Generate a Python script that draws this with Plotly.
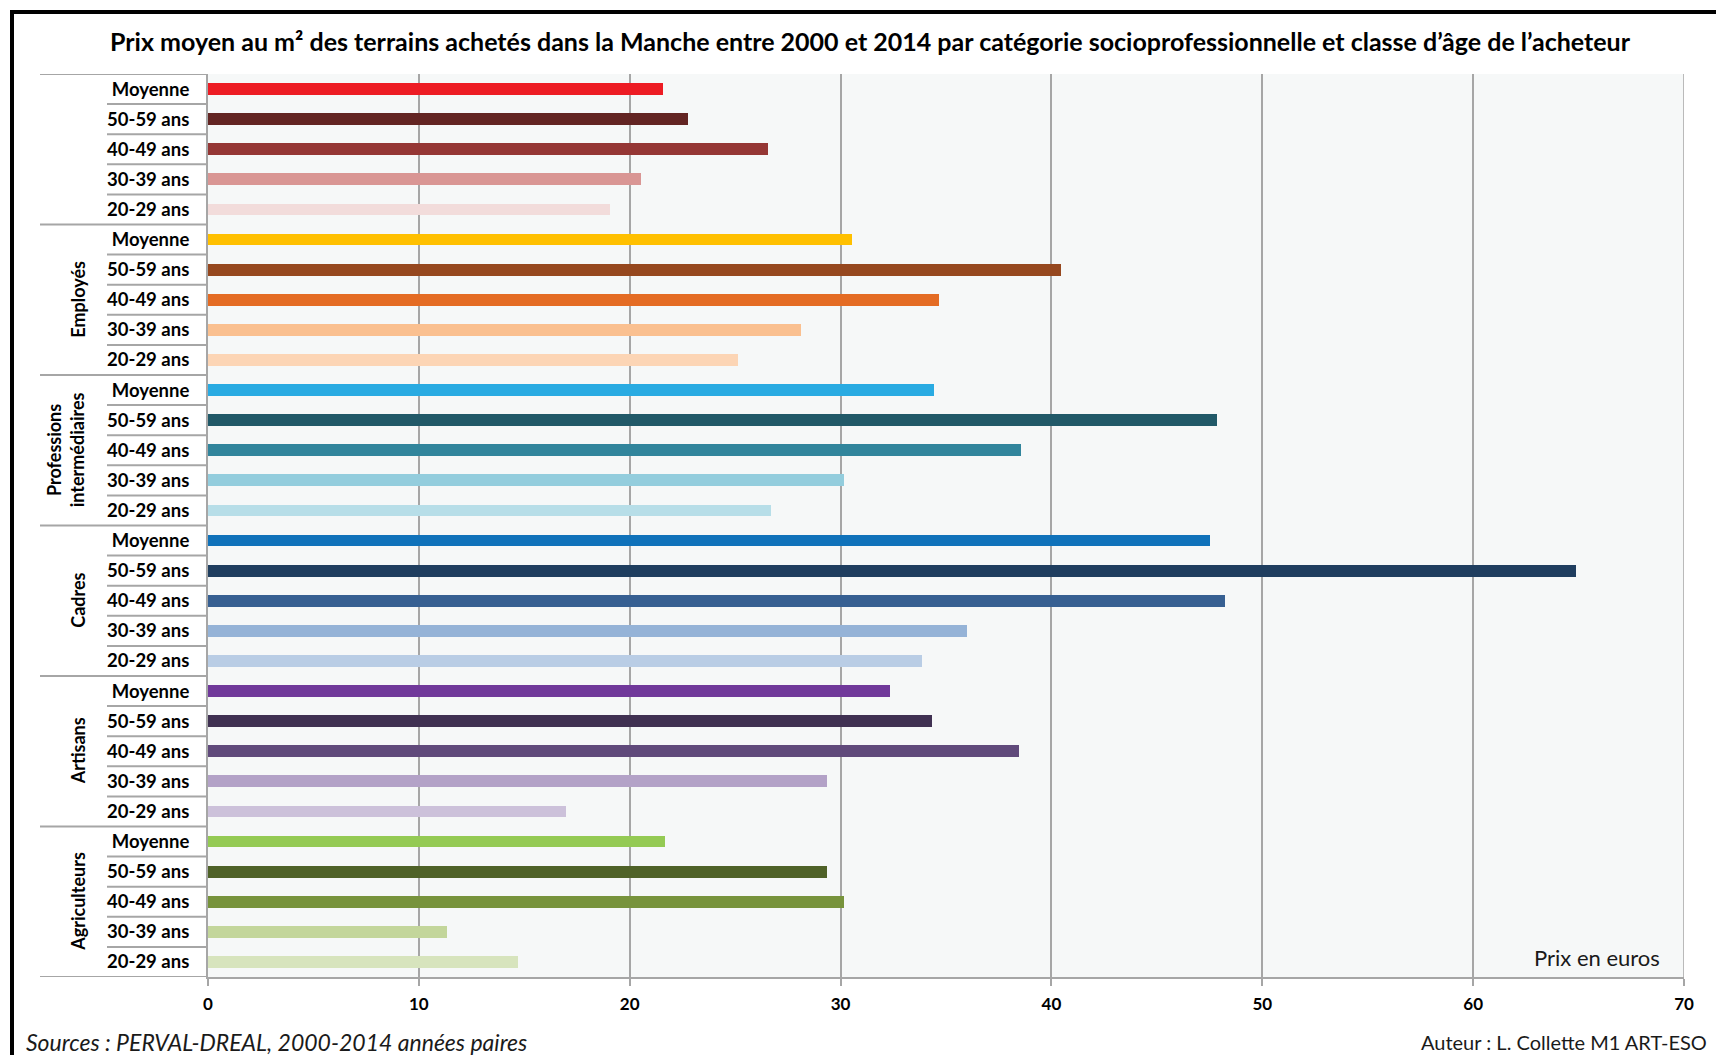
import plotly.graph_objects as go

# Age classes within each socio-professional group (top to bottom)
age_classes = ["Moyenne", "50-59 ans", "40-49 ans", "30-39 ans", "20-29 ans"]

# Group names, top to bottom (first group carries no label)
group_names = ["", "Employés", "Professions<br>intermédiaires", "Cadres", "Artisans", "Agriculteurs"]

# Mean price per m² (euros), same order as age_classes
prix_groupe_1 = [21.6, 22.75, 26.55, 20.55, 19.05]
prix_employes = [30.55, 40.45, 34.65, 28.1, 25.15]
prix_prof_inter = [34.45, 47.85, 38.55, 30.15, 26.7]
prix_cadres = [47.5, 64.9, 48.25, 36.0, 33.85]
prix_artisans = [32.35, 34.35, 38.45, 29.35, 17.0]
prix_agriculteurs = [21.65, 29.35, 30.15, 11.35, 14.7]

x_ticks = [0, 10, 20, 30, 40, 50, 60, 70]

# Bar colours per group, same order as age_classes
palette = [
    ["#ED1C24", "#632523", "#953735", "#D99694", "#F2DCDB"],
    ["#FFC000", "#96481F", "#E46C24", "#FAC090", "#FCD5B5"],
    ["#29ABE2", "#215968", "#31859C", "#93CDDD", "#B7DEE8"],
    ["#1072BA", "#1F3E5F", "#376092", "#95B3D7", "#B9CDE5"],
    ["#70399A", "#403152", "#604A7B", "#B3A2C7", "#CCC1DA"],
    ["#94CA54", "#4F6228", "#77933C", "#C3D69B", "#D7E4BD"],
]

series = [prix_groupe_1, prix_employes, prix_prof_inter, prix_cadres, prix_artisans, prix_agriculteurs]

values, labels, colors = [], [], []
for g, vals in enumerate(series):
    for a, v in enumerate(vals):
        values.append(v)
        labels.append(age_classes[a])
        colors.append(palette[g][a])
positions = list(range(len(values)))

FONT = "Lato"
GRID = "#A6A6A6"

fig = go.Figure(
    go.Bar(
        x=values,
        y=positions,
        orientation="h",
        width=0.39,
        marker=dict(color=colors, line=dict(width=0)),
        hoverinfo="x",
    )
)

# Plot area geometry in pixels
W, H = 1716, 1055
L, R, T, B = 208, 32, 74, 78
pw, ph = W - L - R, H - T - B

def px_x(px):
    return (px - L) / pw

def px_y(py):
    return (H - B - py) / ph

shapes = []
n = len(values)
for k in range(n + 1):
    start = 40 if k % 5 == 0 else 107
    shapes.append(dict(type="line", xref="paper", yref="y",
                       x0=px_x(start), x1=0, y0=k - 0.5, y1=k - 0.5,
                       line=dict(color=GRID, width=2)))
# right edge line at 70
shapes.append(dict(type="line", xref="x", yref="paper", x0=70, x1=70, y0=0, y1=1,
                   line=dict(color=GRID, width=1.5)))
# outer black frame (top and left)
shapes.append(dict(type="line", xref="paper", yref="paper",
                   x0=px_x(10), x1=px_x(1720), y0=px_y(12), y1=px_y(12),
                   line=dict(color="black", width=4)))
shapes.append(dict(type="line", xref="paper", yref="paper",
                   x0=px_x(12), x1=px_x(12), y0=px_y(10), y1=px_y(1060),
                   line=dict(color="black", width=4)))

annotations = []
for g, name in enumerate(group_names):
    if not name:
        continue
    xc = 65 if "<br>" in name else 78
    annotations.append(dict(
        text=name, xref="paper", yref="y", x=px_x(xc), y=g * 5 + 2,
        textangle=-90, showarrow=False, xanchor="center", yanchor="middle",
        font=dict(family=FONT, size=18, color="black", weight="bold"),
    ))

annotations.append(dict(
    text="Prix en euros", xref="paper", yref="paper", x=px_x(1662), y=px_y(957),
    xanchor="right", yanchor="middle", showarrow=False,
    font=dict(family=FONT, size=22, color="#1a1a1a"),
))
annotations.append(dict(
    text="<i>Sources : PERVAL-DREAL, 2000-2014 années paires</i>",
    xref="paper", yref="paper", x=px_x(24), y=px_y(1042),
    xanchor="left", yanchor="middle", showarrow=False,
    font=dict(family=FONT, size=23, color="#1a1a1a"),
))
annotations.append(dict(
    text="Auteur : L. Collette M1 ART-ESO",
    xref="paper", yref="paper", x=px_x(1709), y=px_y(1042),
    xanchor="right", yanchor="middle", showarrow=False,
    font=dict(family=FONT, size=20, color="#1a1a1a"),
))
annotations.append(dict(
    text="Prix moyen au m² des terrains achetés dans la Manche entre 2000 et 2014 par catégorie socioprofessionnelle et classe d’âge de l’acheteur",
    xref="paper", yref="paper", x=px_x(870), y=px_y(41),
    xanchor="center", yanchor="middle", showarrow=False,
    font=dict(family=FONT, size=25, color="black", weight="bold"),
))

fig.update_layout(
    width=W, height=H,
    margin=dict(l=L, r=R, t=T, b=B),
    paper_bgcolor="white",
    plot_bgcolor="#F6F8F8",
    showlegend=False,
    bargap=0,
    shapes=shapes,
    annotations=annotations,
    xaxis=dict(
        range=[0, 70], tickvals=x_ticks, ticktext=[str(t) for t in x_ticks],
        showgrid=True, gridcolor=GRID, gridwidth=1.5,
        zeroline=False, showline=True, linecolor=GRID, linewidth=2,
        ticks="outside", ticklen=7, tickcolor=GRID, tickwidth=1.5,
        ticklabelstandoff=4,
        tickfont=dict(family=FONT, size=17, color="black", weight="bold"),
        fixedrange=True,
    ),
    yaxis=dict(
        range=[n - 0.5, -0.5], tickvals=positions, ticktext=labels,
        showgrid=False, zeroline=False, showline=True, linecolor=GRID, linewidth=2,
        ticks="", ticklabelstandoff=13,
        tickfont=dict(family=FONT, size=18.5, color="black", weight="bold"),
        fixedrange=True,
    ),
)

fig.write_html("out.html")
